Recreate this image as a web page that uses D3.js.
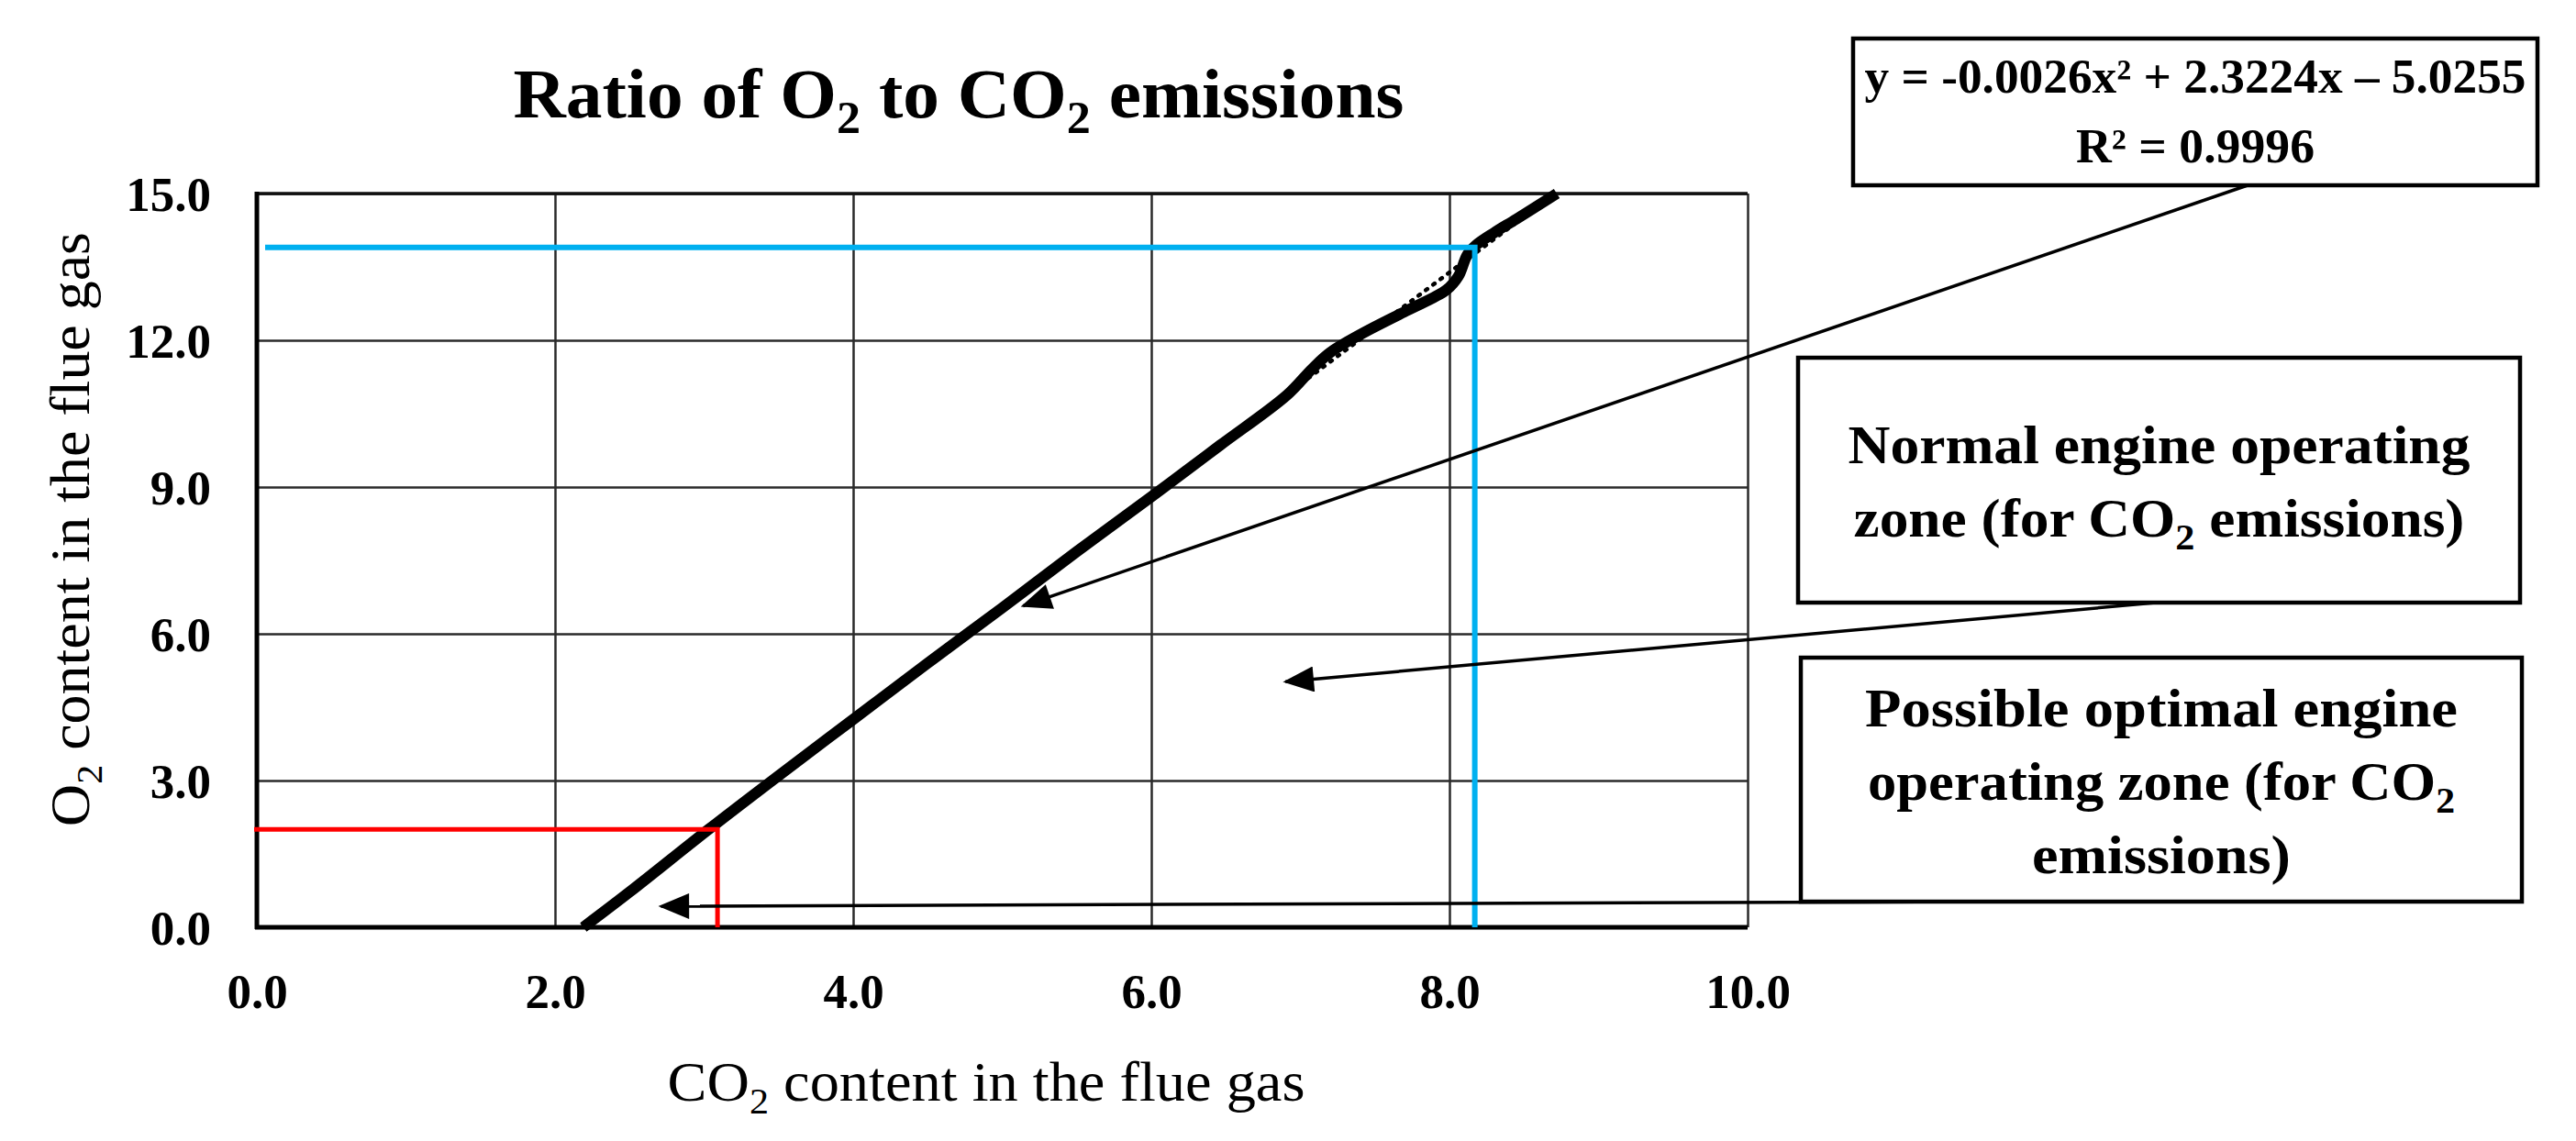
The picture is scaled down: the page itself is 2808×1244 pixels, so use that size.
<!doctype html>
<html>
<head>
<meta charset="utf-8">
<script src="https://d3js.org/d3.v7.min.js"></script>
<style>
  body { margin: 0; background: #fff; }
  svg text { font-family: "Liberation Serif", "DejaVu Serif", serif; fill: #000; }
  .grid line { stroke: #2a2a2a; stroke-width: 2.5; }
  .grid path { display: none; }
  .tick text { font-weight: bold; font-size: 53px; }
</style>
</head>
<body>
<svg width="2808" height="1244"></svg>
<script>
// measured data (CO2 %, O2 %)
var co2 = [2.19, 2.5, 3.03, 3.5, 4.0, 4.5, 5.0, 5.5, 6.0, 6.46, 6.91, 7.08, 7.2, 7.41, 7.71, 7.98, 8.06, 8.12, 8.18, 8.3, 8.45, 8.72];
var o2  = [0.0, 0.72, 2.0, 3.1, 4.25, 5.4, 6.53, 7.68, 8.8, 9.85, 10.88, 11.42, 11.75, 12.13, 12.6, 13.03, 13.31, 13.75, 13.95, 14.2, 14.48, 15.0];

// trendline  y = a x^2 + b x + c
var trendCoef = [-0.0026, 2.3224, -5.0255];

// reference levels
var optimalPoint = [3.09, 2.0];   // red
var normalPoint = [8.17, 13.9];   // blue

var xTicks = [0, 2, 4, 6, 8, 10];
var yTicks = [0, 3, 6, 9, 12, 15];

// arrow tips (data coords)
var eqArrowTip = [5.14, 6.57];
var normalArrowTip = [6.9, 5.02];
var optimalArrowTip = [2.71, 0.43];

var svg = d3.select("svg");

var x = d3.scaleLinear().domain([0, 10]).range([280, 1905]);
var y = d3.scaleLinear().domain([0, 15]).range([1011, 211]);

// grid + tick labels
var gy = svg.append("g").attr("class", "grid")
    .attr("transform", "translate(280,0)")
    .call(d3.axisLeft(y).tickValues(yTicks).tickFormat(d3.format(".1f"))
        .tickSize(-(1905 - 280)).tickPadding(50));
gy.selectAll("text").attr("dy", "0.34em");

var gx = svg.append("g").attr("class", "grid")
    .attr("transform", "translate(0,1011)")
    .call(d3.axisBottom(x).tickValues(xTicks).tickFormat(d3.format(".1f"))
        .tickSize(-(1011 - 211)).tickPadding(50));

// top border slightly heavier, axes heavy
svg.append("line").attr("x1", 280).attr("x2", 1905).attr("y1", 211).attr("y2", 211)
    .attr("stroke", "#111").attr("stroke-width", 3.5);
svg.append("line").attr("x1", 280).attr("x2", 280).attr("y1", 209).attr("y2", 1013)
    .attr("stroke", "#000").attr("stroke-width", 5);
svg.append("line").attr("x1", 278).attr("x2", 1905).attr("y1", 1011).attr("y2", 1011)
    .attr("stroke", "#000").attr("stroke-width", 5);

// trendline (dotted) under the data
var trendX = d3.range(co2[0], 8.72, 0.02);
var trendLine = d3.line()
    .x(function(d) { return x(d); })
    .y(function(d) { return y(trendCoef[0] * d * d + trendCoef[1] * d + trendCoef[2]); });
svg.append("path").datum(trendX)
    .attr("d", trendLine)
    .attr("fill", "none").attr("stroke", "#000")
    .attr("stroke-width", 4.5).attr("stroke-dasharray", "2,8")
    .attr("stroke-linecap", "round");

// data curve
var pts = co2.map(function(d, i) { return [d, o2[i]]; });
svg.append("path").datum(pts)
    .attr("d", d3.line().x(function(d) { return x(d[0]); }).y(function(d) { return y(d[1]); })
        .curve(d3.curveCatmullRom.alpha(0.5)))
    .attr("fill", "none").attr("stroke", "#000")
    .attr("stroke-width", 12).attr("stroke-linejoin", "round");

// reference corners
function corner(p, color, w, x0) {
    svg.append("path")
        .attr("d", "M" + x0 + "," + y(p[1]) + "H" + x(p[0]) + "V" + y(0))
        .attr("fill", "none").attr("stroke", color).attr("stroke-width", w);
}
corner(optimalPoint, "#ff0000", 5, 277);
corner(normalPoint, "#00b0f0", 6, 289);

// fit a text element to a measured width
function fit(t, w) {
    t.attr("textLength", w).attr("lengthAdjust", "spacingAndGlyphs");
    return t;
}

// title
var title = svg.append("text").attr("x", 1045).attr("y", 128)
    .attr("text-anchor", "middle").attr("font-weight", "bold").attr("font-size", 76);
title.append("tspan").text("Ratio of O");
title.append("tspan").text("2").attr("font-size", 50).attr("dy", 17);
title.append("tspan").text(" to CO").attr("dy", -17);
title.append("tspan").text("2").attr("font-size", 50).attr("dy", 17);
title.append("tspan").text(" emissions").attr("dy", -17);
fit(title, 971);

// axis titles
var xt = svg.append("text").attr("x", 1075).attr("y", 1200)
    .attr("text-anchor", "middle").attr("font-size", 61);
xt.append("tspan").text("CO");
xt.append("tspan").text("2").attr("font-size", 40).attr("dy", 14);
xt.append("tspan").text(" content in the flue gas").attr("dy", -14);
fit(xt, 695);

var yt = svg.append("text").attr("transform", "translate(97,577) rotate(-90)")
    .attr("text-anchor", "middle").attr("font-size", 61);
yt.append("tspan").text("O");
yt.append("tspan").text("2").attr("font-size", 40).attr("dy", 14);
yt.append("tspan").text(" content in the flue gas").attr("dy", -14);
fit(yt, 648);

// annotation boxes
var eqBox = {x: 2020, y: 42, w: 746, h: 160};
var normBox = {x: 1960, y: 390, w: 787, h: 267};
var optBox = {x: 1963, y: 717, w: 786, h: 266};

// arrows
svg.append("defs").append("marker")
    .attr("id", "head").attr("viewBox", "0 0 12 10")
    .attr("refX", 11).attr("refY", 5)
    .attr("markerUnits", "userSpaceOnUse")
    .attr("markerWidth", 36).attr("markerHeight", 28)
    .attr("orient", "auto")
    .append("path").attr("d", "M0,0L12,5L0,10Z").attr("fill", "#000");

function arrow(x1, y1, tip) {
    svg.append("line")
        .attr("x1", x1).attr("y1", y1)
        .attr("x2", x(tip[0])).attr("y2", y(tip[1]))
        .attr("stroke", "#000").attr("stroke-width", 3.5)
        .attr("marker-end", "url(#head)");
}
arrow(eqBox.x + 430, eqBox.y + eqBox.h, eqArrowTip);
arrow(normBox.x + 390, normBox.y + normBox.h, normalArrowTip);
arrow(optBox.x + 190, optBox.y + optBox.h, optimalArrowTip);

function box(b) {
    svg.append("rect").attr("x", b.x).attr("y", b.y).attr("width", b.w).attr("height", b.h)
        .attr("fill", "#fff").attr("stroke", "#000").attr("stroke-width", 4.5);
}
box(eqBox); box(normBox); box(optBox);

// equation text
var cx = eqBox.x + eqBox.w / 2;
fit(svg.append("text").attr("x", cx).attr("y", 101).attr("text-anchor", "middle")
    .attr("font-weight", "bold").attr("font-size", 52)
    .text("y = -0.0026x\u00b2 + 2.3224x \u2013 5.0255"), 721);
fit(svg.append("text").attr("x", cx).attr("y", 177).attr("text-anchor", "middle")
    .attr("font-weight", "bold").attr("font-size", 52)
    .text("R\u00b2 = 0.9996"), 260);

// box labels (lines with optional subscript)
function boxLines(b, lines, baselines, widths) {
    var mx = b.x + b.w / 2;
    lines.forEach(function(parts, i) {
        var t = svg.append("text").attr("x", mx).attr("y", baselines[i])
            .attr("text-anchor", "middle").attr("font-weight", "bold").attr("font-size", 60);
        parts.forEach(function(p) {
            if (p === "2") {
                t.append("tspan").text("2").attr("font-size", 40).attr("dy", 14);
            } else {
                var s = t.append("tspan").text(p);
                if (t.selectAll("tspan").size() > 1) s.attr("dy", -14);
            }
        });
        fit(t, widths[i]);
    });
}
boxLines(normBox, [["Normal engine operating"], ["zone (for CO", "2", " emissions)"]],
    [505, 585], [678, 666]);
boxLines(optBox, [["Possible optimal engine"], ["operating zone (for CO", "2"], ["emissions)"]],
    [792, 872, 952], [646, 640, 282]);
</script>
</body>
</html>
